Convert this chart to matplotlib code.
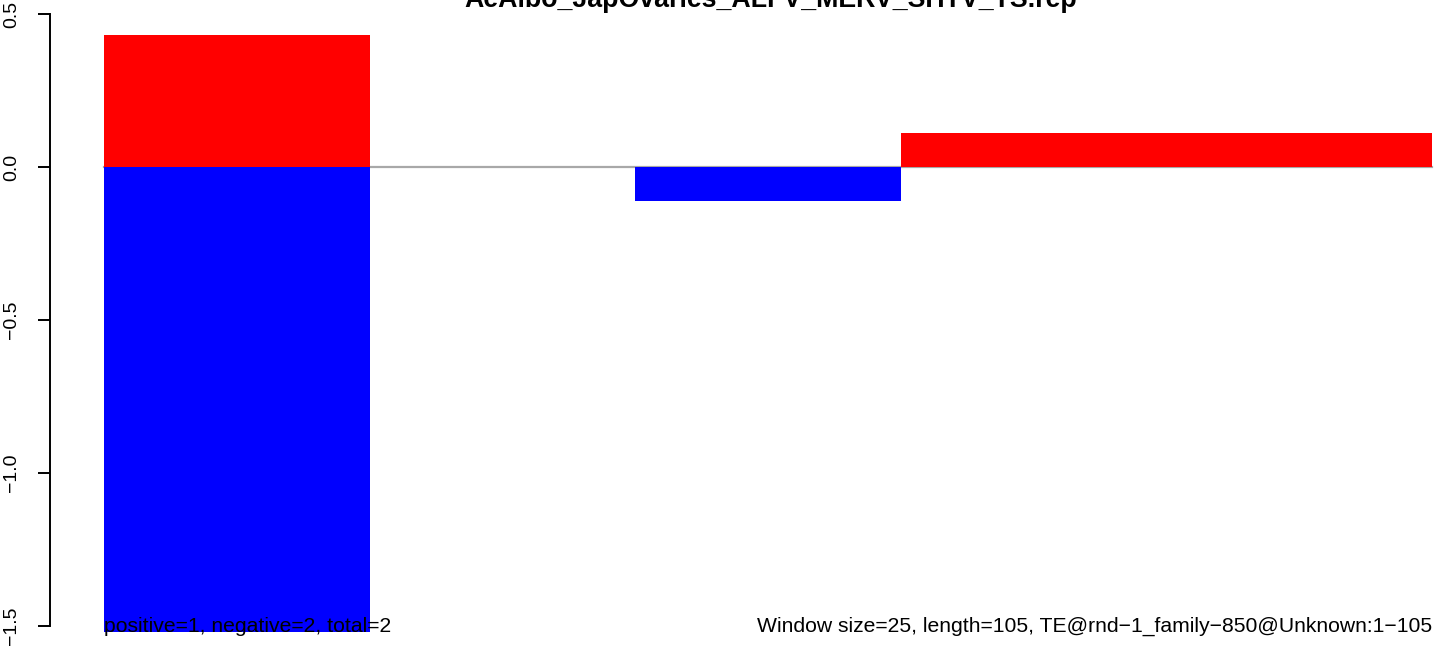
import numpy as np
import matplotlib
matplotlib.use("Agg")
import matplotlib.pyplot as plt

plt.rcParams['font.family'] = ['Liberation Sans', 'DejaVu Sans']

title = "AeAlbo_JapOvaries_ALFV_MERV_SHTV_TS.rep"
windows = [0, 1, 2, 3, 4]          # window index (window size 25)
positive = [0.43, 0.0, 0.0, 0.11, 0.11]
negative = [-1.52, 0.0, -0.11, 0.0, 0.0]
yticks = [-1.5, -1.0, -0.5, 0.0, 0.5]
ytick_labels = ["\u22121.5", "\u22121.0", "\u22120.5", "0.0", "0.5"]
left_note = "positive=1, negative=2, total=2"
right_note = "Window size=25, length=105, TE@rnd\u22121_family\u2212850@Unknown:1\u2212105"

W, H = 1444, 650
fig = plt.figure(figsize=(W / 100, H / 100), dpi=100)
# axes spans from the y axis line (px 50) to the right edge, full height
ax = fig.add_axes([50 / W, 0, 1 - 50 / W, 1])

px_unit = (1432 - 104.3) / 5
ax.set_xlim(-(104.3 - 50) / px_unit, 5 + 12 / px_unit)
ax.set_ylim(-(650 - 167) / 306, 167 / 306)

ax.plot([0, 5], [0, 0], color="#a8a8a8", lw=1.6, zorder=1)
ax.bar(windows, positive, width=1, align="edge", color="red", zorder=2)
ax.bar(windows, negative, width=1, align="edge", color="blue", zorder=2)

for s in ["top", "right", "bottom"]:
    ax.spines[s].set_visible(False)
ax.spines["left"].set_bounds(-1.5, 0.5)
ax.spines["left"].set_linewidth(1.4)
ax.set_xticks([])
ax.set_yticks(yticks)
ax.set_yticklabels(ytick_labels, rotation=90, va="center", fontsize=14)
ax.tick_params(axis="y", length=8.6, width=1.4, pad=13)

ax.text(2.51, 0.522, title, ha="center", va="baseline", fontsize=19.3,
        fontweight="bold")
ax.text(0, -1.518, left_note, ha="left", va="baseline", fontsize=15.2, zorder=3)
ax.text(5, -1.518, right_note, ha="right", va="baseline", fontsize=15.2, zorder=3)

fig.savefig("out.png", dpi=100)
